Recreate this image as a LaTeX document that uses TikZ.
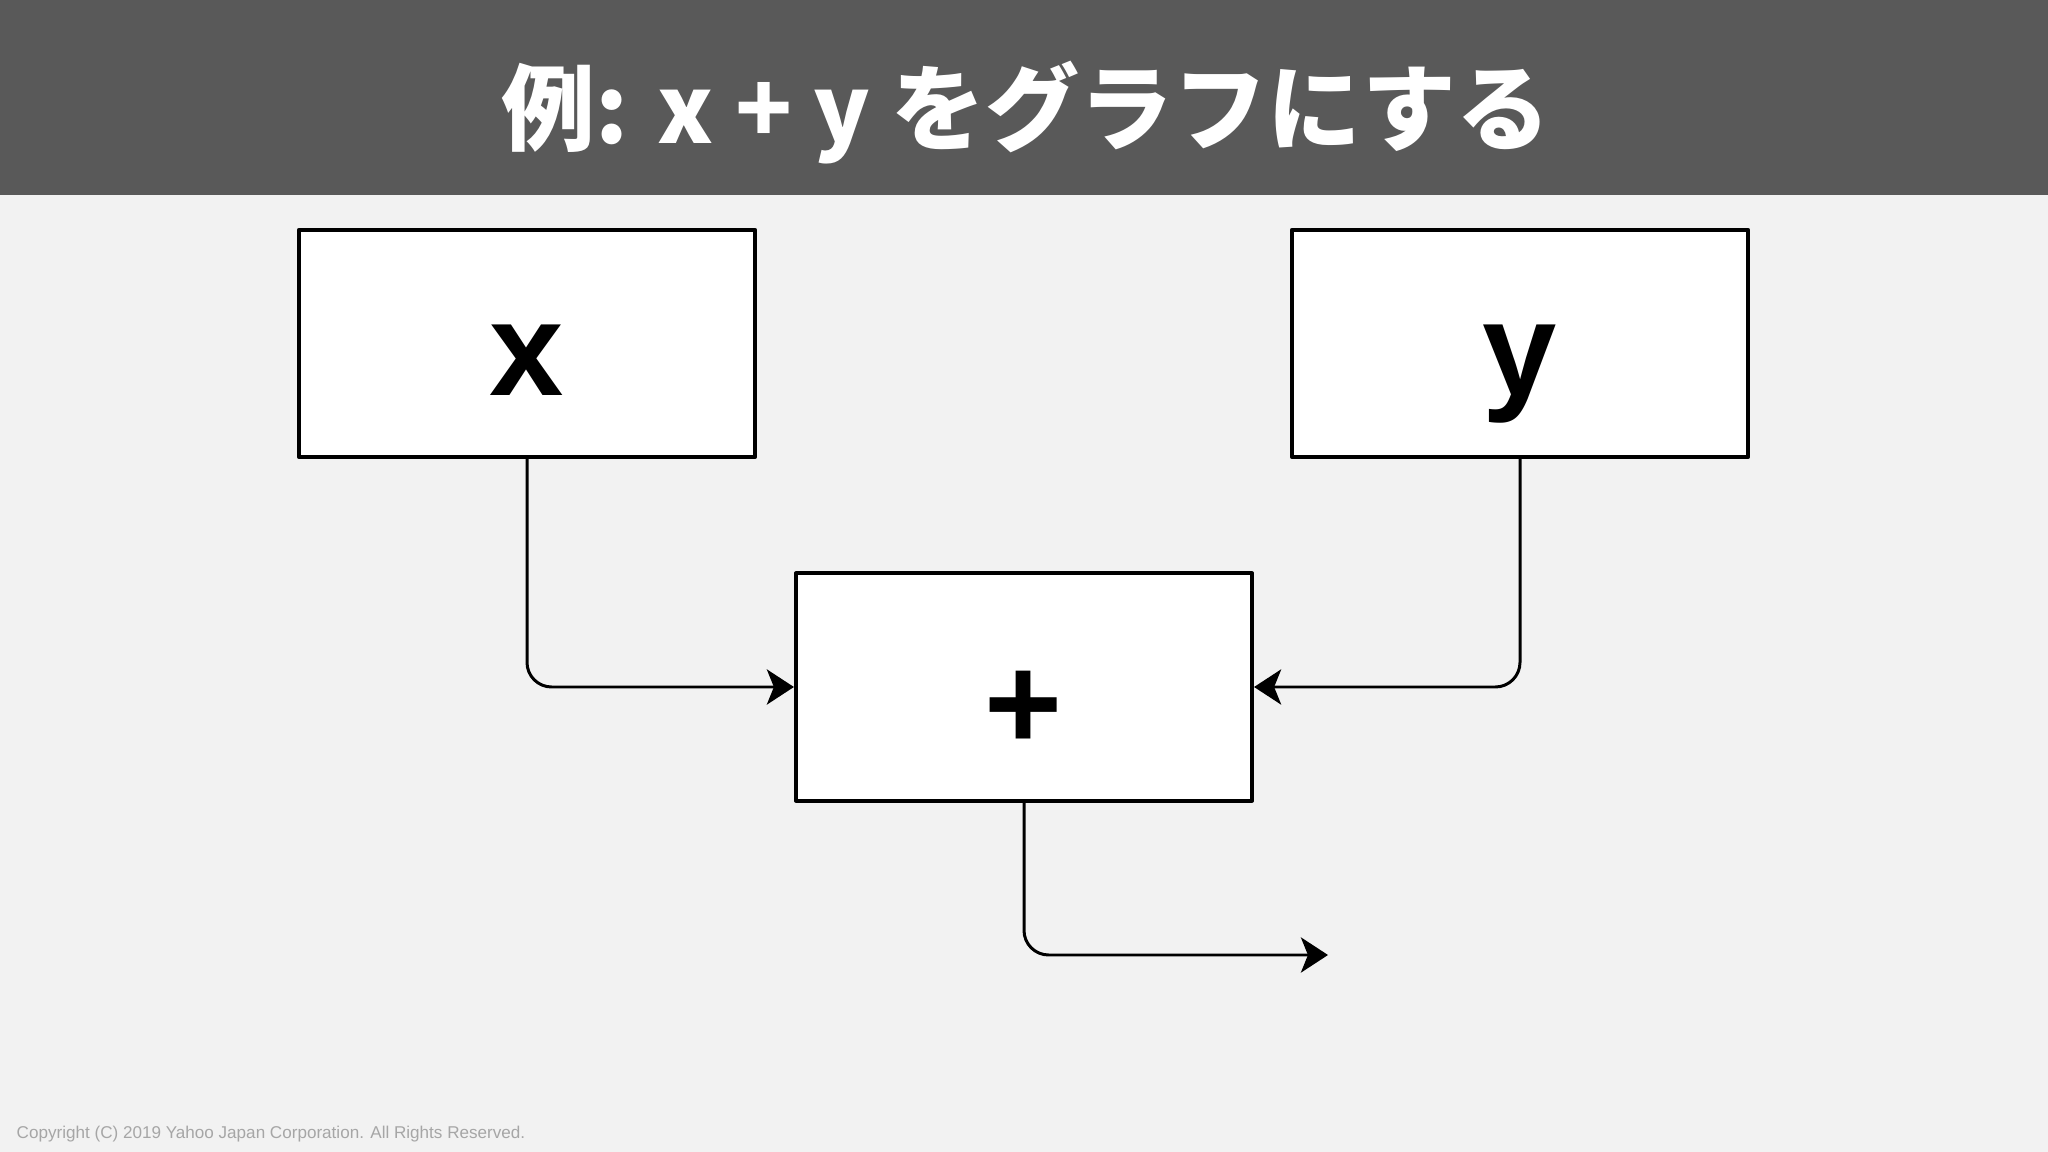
\documentclass[tikz,border=0pt]{standalone}
\usepackage{fontspec}
\setmainfont{Liberation Sans}
\newfontfamily\jpfont{Noto Sans CJK JP}
\usetikzlibrary{arrows.meta}
\definecolor{slidebg}{HTML}{F2F2F2}
\definecolor{titlebar}{HTML}{595959}
\definecolor{footgray}{HTML}{A6A6A6}

\begin{document}
\begin{tikzpicture}[x=0.01cm, y=-0.01cm, line join=round,
  box/.style={draw, line width=1.1pt, fill=white, minimum width=4.56cm, minimum height=2.27cm,
    inner sep=0pt, font=\fontsize{38}{38}\selectfont\bfseries, text height=29.3pt, text depth=0pt},
  wire/.style={line width=0.85pt, rounded corners=7pt, -{Stealth[length=7.7pt,width=10pt,inset=2pt]}}]
  % slide
  \fill[slidebg] (0,0) rectangle (2048,1152);
  \useasboundingbox (0,0) rectangle (2048,1152);
  \fill[titlebar] (0,0) rectangle (2048,195);
  \node[anchor=base, white, font=\jpfont\fontsize{26.7}{26.7}\selectfont\bfseries] (title) at (1026,144)
    {例: x + y をグラフにする};
  \node[anchor=base west, inner sep=0pt, footgray, font=\fontsize{4.86}{4.86}\selectfont] (foot) at (16,1138)
    {Copyright (C) 2019 Yahoo Japan Corporation. All Rights Reserved.};
  % boxes
  \node[box] (xbox) at (527,343.5) {x};
  \node[box] (ybox) at (1520,343.5) {y};
  \node[box, text height=35.8pt] (addbox) at (1024,687) {+};
  \coordinate (out) at (1328,955);
  % wires
  \draw[wire] (xbox.south) |- (addbox.west);
  \draw[wire] (ybox.south) |- (addbox.east);
  \draw[wire] (addbox.south) |- (out);
\end{tikzpicture}
\end{document}
